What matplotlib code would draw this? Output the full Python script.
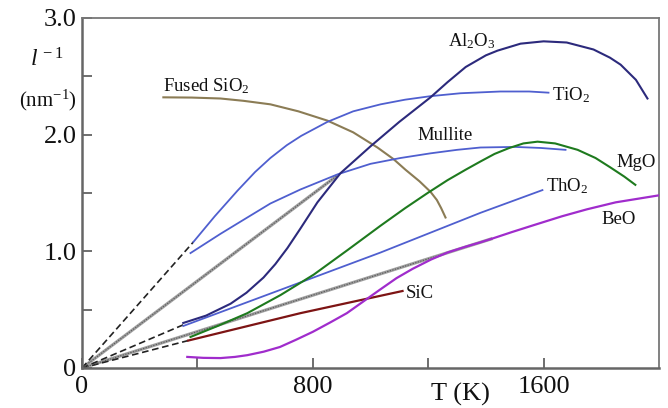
import matplotlib
matplotlib.use("Agg")
import matplotlib.pyplot as plt
from matplotlib.ticker import FixedLocator

plt.rcParams['font.family'] = ['Liberation Serif', 'DejaVu Serif']
plt.rcParams['mathtext.fontset'] = 'custom'
plt.rcParams['mathtext.rm'] = 'Liberation Serif'
plt.rcParams['mathtext.it'] = 'Liberation Serif:italic'
plt.rcParams['mathtext.bf'] = 'Liberation Serif:bold'

# ---------------- data (T in K, inverse mean free path in nm^-1) ----------------
fused_T = [282, 380, 480, 560, 653, 750, 851, 940, 1024, 1080, 1121, 1170, 1208, 1230, 1245, 1260]
fused_y = [2.32, 2.318, 2.31, 2.29, 2.26, 2.20, 2.12, 2.02, 1.89, 1.79, 1.70, 1.60, 1.51, 1.44, 1.37, 1.29]

tio2_T = [386, 460, 539, 600, 653, 710, 760, 851, 940, 1035, 1120, 1208, 1312, 1450, 1550, 1617]
tio2_y = [1.08, 1.30, 1.52, 1.68, 1.80, 1.91, 1.99, 2.11, 2.20, 2.26, 2.30, 2.33, 2.355, 2.37, 2.37, 2.36]

mullite_T = [376, 480, 573, 653, 757, 886, 1000, 1104, 1208, 1300, 1381, 1500, 1590, 1676]
mullite_y = [0.985, 1.15, 1.29, 1.41, 1.53, 1.66, 1.75, 1.80, 1.84, 1.87, 1.89, 1.895, 1.886, 1.87]

al2o3_T = [351, 430, 515, 570, 629, 670, 712, 757, 816, 896, 1000, 1100, 1208, 1267, 1330,
           1400, 1440, 1520, 1600, 1680, 1773, 1830, 1867, 1920, 1960]
al2o3_y = [0.386, 0.449, 0.551, 0.645, 0.775, 0.89, 1.028, 1.195, 1.42, 1.67, 1.90, 2.11, 2.32, 2.45, 2.58,
           2.68, 2.72, 2.78, 2.80, 2.79, 2.73, 2.66, 2.60, 2.47, 2.31]

mgo_T = [376, 470, 573, 688, 803, 920, 1035, 1120, 1198, 1267, 1330, 1381, 1430, 1480, 1530, 1579,
         1640, 1718, 1780, 1831, 1880, 1918]
mgo_y = [0.266, 0.36, 0.47, 0.625, 0.80, 1.01, 1.22, 1.37, 1.50, 1.61, 1.70, 1.77, 1.835, 1.885, 1.925, 1.94,
         1.925, 1.87, 1.80, 1.72, 1.64, 1.57]

tho2_T = [351, 688, 1035, 1381, 1596]
tho2_y = [0.36, 0.67, 0.99, 1.33, 1.525]

sic_T = [368, 757, 1111]
sic_y = [0.235, 0.47, 0.66]

beo_T = [365, 420, 480, 530, 573, 630, 686, 740, 800, 860, 918, 975, 1032, 1090, 1146, 1210, 1267,
         1330, 1378, 1423, 1490, 1560, 1663, 1750, 1850, 2000]
beo_y = [0.095, 0.087, 0.085, 0.095, 0.11, 0.14, 0.18, 0.24, 0.31, 0.39, 0.47, 0.57, 0.67, 0.77, 0.85, 0.93, 0.99,
         1.04, 1.075, 1.11, 1.165, 1.22, 1.30, 1.36, 1.42, 1.48]

# straight extrapolations to the origin
gray_T = [[0, 885], [0, 1423]]
gray_y = [[0, 1.65], [0, 1.11]]
dash_T = [[0, 386], [0, 351], [0, 368]]
dash_y = [[0, 1.08], [0, 0.37], [0, 0.235]]

labels = ['Fused SiO$_2$', 'Al$_2$O$_3$', 'TiO$_2$', 'Mullite', 'MgO', 'ThO$_2$', 'BeO', 'SiC']
label_T = [282, 1268, 1628, 1164, 1853, 1607, 1801, 1122]
label_y = [2.42, 2.80, 2.34, 1.99, 1.765, 1.56, 1.27, 0.64]

xtick_vals = [0, 400, 800, 1200, 1600]
xtick_text = ['0', '', '800', '', '1600']
ytick_vals = [0, 1, 2, 3]
ytick_text = ['0', '1.0', '2.0', '3.0']
yminor_vals = [0.5, 1.5, 2.5]

# ---------------- figure ----------------
fig = plt.figure(figsize=(6.68, 4.08), dpi=100)
ax = fig.add_axes([82 / 668, 40 / 408, 577 / 668, 350 / 408])

for gt, gy in zip(gray_T, gray_y):
    ax.plot(gt, gy, color='#a0a0a0', lw=2.3, solid_capstyle='butt', zorder=2)
    ax.plot(gt, gy, color='#5a5a5a', lw=0.8, dashes=(1.2, 1.2), zorder=2.1)
for dt, dy in zip(dash_T, dash_y):
    ax.plot(dt, dy, color='#222222', lw=1.2, dashes=(4, 2.2), zorder=2)

blue = '#4f5fcf'
ax.plot(fused_T, fused_y, color='#8b7c55', lw=1.5, zorder=3)
ax.plot(tio2_T, tio2_y, color=blue, lw=1.3, zorder=3)
ax.plot(mullite_T, mullite_y, color=blue, lw=1.3, zorder=3)
ax.plot(tho2_T, tho2_y, color=blue, lw=1.3, zorder=3)
ax.plot(al2o3_T, al2o3_y, color='#2c2a7c', lw=1.5, zorder=3)
ax.plot(mgo_T, mgo_y, color='#1e7a1e', lw=1.5, zorder=3)
ax.plot(sic_T, sic_y, color='#7d1414', lw=1.6, zorder=3)
ax.plot(beo_T, beo_y, color='#a02ccc', lw=1.6, zorder=3)

for txt, lt, ly in zip(labels, label_T, label_y):
    ax.text(lt, ly, txt, fontsize=13.5, ha='left', va='center', color='#111111')

ax.set_xlim(0, 2000)
ax.set_ylim(0, 3.0)
ax.set_xticks(xtick_vals)
ax.set_xticklabels(xtick_text)
ax.set_yticks(ytick_vals)
ax.set_yticklabels(ytick_text)
ax.yaxis.set_minor_locator(FixedLocator(yminor_vals))
ax.tick_params(axis='both', which='both', direction='in', length=7, width=1.2,
               color='#555555', labelsize=19, labelcolor='#111111')
ax.tick_params(axis='x', pad=6)
ax.tick_params(axis='y', pad=4)
ax.tick_params(top=False, right=False)

for side in ['left', 'bottom']:
    ax.spines[side].set_color('#666666')
    ax.spines[side].set_linewidth(1.8)
for side in ['top', 'right']:
    ax.spines[side].set_color('#777777')
    ax.spines[side].set_linewidth(1.3)

ax.text(1312, -0.23, 'T (K)', fontsize=19, ha='center', va='center', color='#111111',
        clip_on=False)

fig.text(47 / 668, 1 - 60 / 408, r'$l^{\,-1}$', fontsize=17, ha='center', va='center', color='#111111')
fig.text(48 / 668, 1 - 100 / 408, r'(nm$^{-1}$)', fontsize=15, ha='center', va='center', color='#111111')

fig.savefig('out.png', dpi=100)
